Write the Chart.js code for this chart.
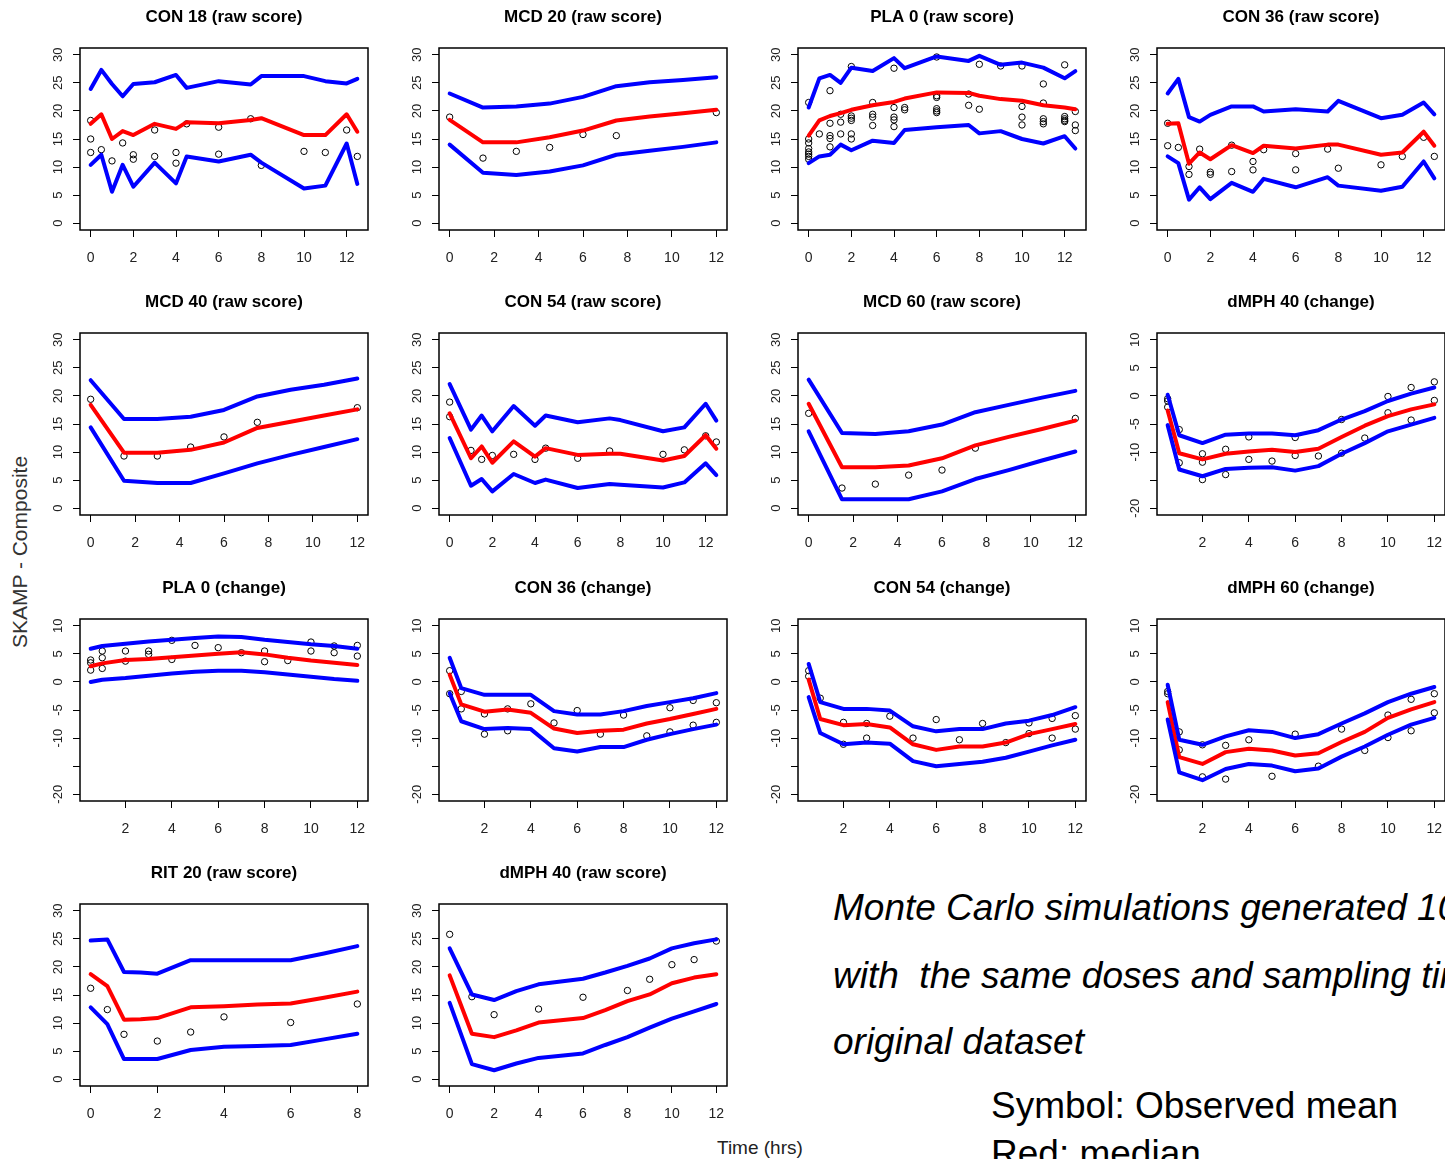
<!DOCTYPE html>
<html><head><meta charset="utf-8">
<script src="https://cdn.jsdelivr.net/npm/chart.js@4.4.1/dist/chart.umd.min.js"></script>
<style>
html,body{margin:0;padding:0;background:#fff;overflow:hidden;width:1445px;height:1159px;}
#stage{position:relative;width:1445px;height:1159px;overflow:hidden;font-family:'Liberation Sans',Arial,sans-serif;}
#stage canvas{position:absolute;}
.txt{position:absolute;white-space:nowrap;color:#000;line-height:1;}
</style></head>
<body><div id="stage">
<div class="txt" id="ylab" style="left:-130px;top:542px;width:300px;height:20px;line-height:20px;font-size:21px;text-align:center;color:#333;transform:rotate(-90deg);">SKAMP - Composite</div>
<div class="txt" style="left:717px;top:1138px;font-size:19px;color:#222;">Time (hrs)</div>
<div class="txt" style="left:833px;top:889px;font-size:37px;font-style:italic;">Monte Carlo simulations generated 10</div>
<div class="txt" style="left:833px;top:957px;font-size:37px;font-style:italic;">with&nbsp; the same doses and sampling times</div>
<div class="txt" style="left:833px;top:1023px;font-size:37px;font-style:italic;">original dataset</div>
<div class="txt" style="left:991px;top:1087px;font-size:37px;">Symbol: Observed mean</div>
<div class="txt" style="left:991px;top:1135px;font-size:37px;">Red: median</div>
</div>
<script>
// ---------- tick labels ----------
const rawYTicks = [0, 5, 10, 15, 20, 25, 30];
const chgYTicks = [-20, -15, -10, -5, 0, 5, 10];
const chgYLabels = [-20, -10, -5, 0, 5, 10];
const xTicks12 = [0, 2, 4, 6, 8, 10, 12];
const xTicksChg = [2, 4, 6, 8, 10, 12];
const xTicks8 = [0, 2, 4, 6, 8];

// ---------- time grids ----------
const conTime = [0, 0.5, 1, 1.5, 2, 3, 4, 4.5, 6, 7.5, 8, 10, 11, 12, 12.5];
const plaTime = [0, 0.5, 1, 1.5, 2, 3, 4, 4.5, 6, 7.5, 8, 9, 10, 11, 12, 12.5];
const con54Time = [0, 1, 1.5, 2, 3, 4, 4.5, 6, 7.5, 8, 10, 11, 12, 12.5];
const mcdTime = [0, 1.5, 3, 4.5, 6, 7.5, 9, 10.5, 12];
const mcdObsT = [0, 1.5, 3, 4.5, 6, 7.5, 12];
const chgTime = [0.5, 1, 2, 3, 4, 5, 6, 7, 8, 9, 10, 11, 12];
const ritTime = [0, 0.5, 1, 1.5, 2, 3, 4, 5, 6, 7, 8];
const dmphTime = [0, 1, 2, 3, 4, 5, 6, 7, 8, 9, 10, 11, 12];

// ---------- CON 18 (raw) ----------
const con18Hi  = [23.9, 27.3, 24.8, 22.6, 24.8, 25.1, 26.4, 24.1, 25.3, 24.7, 26.2, 26.2, 25.3, 24.9, 25.7];
const con18Med = [17.7, 19.4, 15.0, 16.4, 15.7, 17.7, 16.8, 18.0, 17.8, 18.4, 18.7, 15.7, 15.7, 19.4, 16.3];
const con18Lo  = [10.4, 12.2, 5.6, 10.4, 6.5, 10.8, 7.1, 11.9, 11.0, 12.2, 10.8, 6.2, 6.7, 14.2, 7.0];
const con18ObsT = [0, 0, 0, 0.5, 1, 1.5, 2, 2, 3, 3, 4, 4, 4.5, 6, 6, 7.5, 8, 10, 11, 12, 12.5];
const con18ObsY = [18.3, 15.0, 12.6, 13.1, 11.1, 14.3, 12.2, 11.4, 11.9, 16.6, 12.6, 10.7, 17.7, 17.1, 12.3, 18.6, 10.3, 12.8, 12.6, 16.6, 11.9];

// ---------- MCD 20 (raw) ----------
const mcd20Hi  = [23.1, 20.6, 20.8, 21.3, 22.5, 24.4, 25.1, 25.5, 26.0];
const mcd20Med = [18.4, 14.4, 14.4, 15.3, 16.5, 18.3, 19.0, 19.6, 20.2];
const mcd20Lo  = [14.0, 9.0, 8.6, 9.2, 10.3, 12.2, 12.9, 13.6, 14.4];
const mcd20ObsY = [18.9, 11.6, 12.8, 13.5, 15.8, 15.6, 19.7];

// ---------- PLA 0 (raw) ----------
const pla0Hi  = [20.6, 25.8, 26.4, 25.0, 27.7, 27.1, 29.4, 27.6, 29.7, 28.9, 29.8, 28.2, 28.6, 27.7, 25.8, 27.1];
const pla0Med = [15.6, 18.3, 19.1, 19.6, 20.2, 21.0, 21.6, 22.2, 23.3, 23.2, 22.7, 22.1, 21.8, 21.0, 20.6, 20.3];
const pla0Lo  = [10.7, 11.9, 12.2, 14.0, 13.0, 14.7, 14.3, 16.6, 17.1, 17.5, 16.0, 16.4, 15.0, 14.2, 15.5, 13.3];
const pla0ObsT = [0,0,0,0,0,0,0,0, 0.5, 1,1,1,1,1, 1.5,1.5,1.5, 2,2,2,2,2,2, 3,3,3,3, 4,4,4,4,4, 4.5,4.5, 6,6,6,6,6,6, 7.5,7.5, 8,8, 9, 10,10,10,10, 11,11,11,11,11, 12,12,12,12,12, 12.5,12.5,12.5];
const pla0ObsY = [21.5,15.0,14.3,13.3,12.7,12.3,11.9,11.4, 15.9, 23.6,17.8,15.6,15.1,13.6, 19.4,18.0,15.9, 27.9,19.1,18.7,18.3,15.9,15.0, 21.5,19.4,18.9,17.4, 27.6,20.6,18.9,18.4,17.2, 20.6,20.2, 29.6,22.7,22.4,20.4,20.0,19.7, 23.0,21.0, 28.3,20.3, 28.0, 28.0,20.8,18.9,17.5, 24.8,21.4,18.6,18.1,17.7, 28.2,19.0,18.6,18.3,18.1, 19.9,17.5,16.5];

// ---------- CON 36 (raw) ----------
const con36Hi  = [23.1, 25.7, 18.9, 18.1, 19.3, 20.8, 20.8, 19.9, 20.3, 19.9, 21.8, 18.7, 19.3, 21.5, 19.4];
const con36Med = [17.7, 17.8, 10.6, 12.6, 11.4, 13.9, 12.5, 13.8, 13.3, 14.0, 14.0, 12.2, 12.6, 16.3, 13.8];
const con36Lo  = [11.9, 10.7, 4.2, 6.4, 4.3, 7.2, 5.6, 7.9, 6.4, 8.2, 6.7, 5.8, 6.5, 11.0, 8.0];
const con36ObsT = [0, 0, 0.5, 1, 1, 1.5, 2, 2, 3, 3, 4, 4, 4.5, 6, 6, 7.5, 8, 10, 11, 12, 12.5];
const con36ObsY = [17.8, 13.8, 13.5, 10.1, 8.7, 13.2, 9.1, 8.7, 13.9, 9.2, 11.0, 9.5, 13.1, 12.4, 9.5, 13.2, 9.8, 10.4, 11.9, 15.3, 11.9];

// ---------- MCD 40 (raw) ----------
const mcd40Hi  = [22.8, 15.9, 15.9, 16.3, 17.5, 19.9, 21.1, 22.0, 23.1];
const mcd40Med = [18.4, 9.9, 9.9, 10.4, 11.7, 14.3, 15.4, 16.5, 17.6];
const mcd40Lo  = [14.4, 4.9, 4.5, 4.5, 6.2, 8.0, 9.5, 10.9, 12.3];
const mcd40ObsY = [19.4, 9.3, 9.3, 10.9, 12.7, 15.3, 17.9];

// ---------- CON 54 (raw) ----------
const con54Hi  = [22.1, 14.0, 16.5, 13.7, 18.2, 14.7, 16.5, 15.3, 16.0, 15.7, 13.7, 14.4, 18.6, 15.6];
const con54Med = [16.9, 8.9, 11.0, 8.1, 11.9, 9.2, 10.7, 9.5, 9.7, 9.7, 8.5, 9.3, 13.0, 10.6];
const con54Lo  = [12.5, 4.0, 5.2, 3.0, 6.1, 4.5, 5.1, 3.6, 4.3, 4.2, 3.7, 4.6, 8.0, 5.9];
const con54ObsT = [0, 0, 1, 1.5, 2, 3, 4, 4.5, 6, 7.5, 10, 11, 12, 12.5];
const con54ObsY = [18.9, 16.3, 10.3, 8.7, 9.4, 9.6, 8.7, 10.7, 8.9, 10.2, 9.6, 10.4, 12.9, 11.8];

// ---------- MCD 60 (raw) ----------
const mcd60Hi  = [22.9, 13.4, 13.2, 13.7, 14.9, 17.1, 18.4, 19.7, 20.9];
const mcd60Med = [18.6, 7.3, 7.3, 7.6, 8.9, 11.2, 12.7, 14.1, 15.6];
const mcd60Lo  = [13.7, 1.6, 1.6, 1.6, 3.0, 5.2, 6.8, 8.5, 10.1];
const mcd60ObsY = [16.9, 3.6, 4.3, 5.9, 6.8, 10.7, 16.0];

// ---------- dMPH 40 (change) ----------
const dmph40cHi  = [0.2, -7.0, -8.4, -6.9, -6.7, -6.7, -7.0, -6.1, -4.2, -2.7, -0.9, 0.4, 1.5];
const dmph40cMed = [-2.6, -10.2, -11.3, -10.3, -9.9, -9.6, -10.0, -9.4, -7.3, -5.3, -3.6, -2.4, -1.5];
const dmph40cLo  = [-5.2, -13.1, -14.3, -13.0, -12.8, -12.7, -13.3, -12.5, -10.3, -8.4, -6.3, -5.1, -3.9];
const dmph40cObsT = [0.5, 0.5, 0.5, 1, 1, 2, 2, 2, 3, 3, 4, 4, 5, 6, 6, 7, 8, 8, 9, 10, 10, 11, 11, 12, 12];
const dmph40cObsY = [-0.5, -0.9, -2.0, -6.0, -11.9, -10.3, -11.8, -14.9, -9.5, -14.0, -7.3, -11.3, -11.6, -7.4, -10.6, -10.7, -4.2, -10.2, -7.5, -0.1, -3.0, 1.5, -4.3, 2.5, -0.8];

// ---------- PLA 0 (change) ----------
const pla0cHi  = [5.9, 6.4, 6.8, 7.2, 7.5, 7.8, 8.1, 8.0, 7.5, 7.1, 6.7, 6.4, 5.9];
const pla0cMed = [2.8, 3.3, 3.9, 4.1, 4.4, 4.7, 5.0, 5.3, 4.9, 4.3, 3.8, 3.4, 3.0];
const pla0cLo  = [0.0, 0.4, 0.7, 1.1, 1.5, 1.8, 2.0, 2.0, 1.7, 1.3, 0.9, 0.5, 0.2];
const pla0cObsT = [0.5, 0.5, 0.5, 1, 1, 1, 2, 2, 3, 3, 4, 4, 5, 6, 7, 8, 8, 9, 10, 10, 11, 11, 12, 12];
const pla0cObsY = [3.9, 3.4, 2.1, 5.5, 4.3, 2.4, 5.5, 3.7, 5.5, 4.9, 7.4, 4.0, 6.5, 6.1, 5.2, 5.5, 3.6, 3.8, 7.1, 5.5, 6.4, 5.2, 6.5, 4.6];

// ---------- CON 36 (change) ----------
const con36cHi  = [4.3, -1.1, -2.3, -2.3, -2.3, -5.2, -5.8, -5.8, -5.2, -4.3, -3.6, -2.9, -2.0];
const con36cMed = [1.3, -4.0, -5.3, -4.9, -5.5, -8.3, -9.1, -8.7, -8.5, -7.4, -6.6, -5.7, -4.8];
const con36cLo  = [-2.0, -7.0, -8.4, -8.2, -8.4, -11.8, -12.4, -11.6, -11.6, -10.3, -9.3, -8.4, -7.6];
const con36cObsT = [0.5, 0.5, 1, 1, 2, 2, 3, 3, 4, 5, 6, 7, 8, 9, 10, 10, 11, 11, 12, 12];
const con36cObsY = [2.0, -2.1, -1.7, -4.8, -5.7, -9.3, -4.8, -8.7, -3.9, -7.3, -5.1, -9.3, -5.9, -9.6, -4.6, -8.9, -3.3, -7.7, -3.7, -7.2];

// ---------- CON 54 (change) ----------
const con54cHi  = [3.2, -3.6, -4.8, -4.8, -5.1, -7.9, -8.8, -8.4, -8.4, -7.4, -6.9, -5.9, -4.5];
const con54cMed = [0.4, -6.6, -7.7, -7.5, -8.1, -11.1, -12.1, -11.5, -11.5, -10.8, -9.3, -8.4, -7.5];
const con54cLo  = [-2.7, -9.1, -11.1, -10.8, -11.0, -14.1, -15.0, -14.6, -14.2, -13.5, -12.4, -11.3, -10.3];
const con54cObsT = [0.5, 0.5, 1, 2, 2, 3, 3, 4, 5, 6, 7, 8, 9, 10, 10, 11, 11, 12, 12];
const con54cObsY = [2.0, 1.0, -2.9, -7.2, -11.1, -7.4, -10.0, -6.1, -10.0, -6.7, -10.3, -7.4, -10.8, -7.3, -9.2, -6.5, -10.0, -6.0, -8.4];

// ---------- dMPH 60 (change) ----------
const dmph60cHi  = [-0.5, -10.3, -11.2, -9.7, -8.6, -8.9, -10.0, -9.3, -7.4, -5.6, -3.6, -2.1, -0.9];
const dmph60cMed = [-3.6, -13.4, -14.6, -12.5, -11.9, -12.2, -13.1, -12.7, -10.7, -8.9, -6.4, -4.9, -3.6];
const dmph60cLo  = [-6.7, -16.1, -17.5, -15.5, -14.6, -14.9, -15.9, -15.4, -13.3, -11.5, -9.4, -7.6, -6.4];
const dmph60cObsT = [0.5, 0.5, 1, 1, 2, 2, 3, 3, 4, 5, 6, 7, 8, 9, 10, 10, 11, 11, 12, 12];
const dmph60cObsY = [-1.7, -2.1, -8.9, -12.1, -11.2, -16.9, -11.3, -17.3, -10.3, -16.8, -9.3, -15.0, -8.4, -12.2, -5.9, -9.9, -3.1, -8.7, -2.1, -5.5];

// ---------- RIT 20 (raw) ----------
const ritHi  = [24.7, 24.9, 19.1, 19.0, 18.8, 21.2, 21.2, 21.2, 21.2, 22.4, 23.7];
const ritMed = [18.7, 16.6, 10.6, 10.7, 10.9, 12.8, 13.0, 13.3, 13.5, 14.5, 15.6];
const ritLo  = [12.8, 9.8, 3.6, 3.6, 3.6, 5.2, 5.8, 5.9, 6.1, 7.1, 8.1];
const ritObsT = [0, 0.5, 1, 2, 3, 4, 6, 8];
const ritObsY = [16.2, 12.4, 8.0, 6.8, 8.4, 11.1, 10.1, 13.4];

// ---------- dMPH 40 (raw) ----------
const dmph40Hi  = [23.3, 15.1, 14.1, 15.7, 16.9, 17.4, 17.9, 19.0, 20.2, 21.5, 23.3, 24.2, 24.9];
const dmph40Med = [18.5, 8.1, 7.5, 8.7, 10.1, 10.5, 10.9, 12.3, 13.9, 15.1, 17.1, 18.1, 18.7];
const dmph40Lo  = [13.6, 2.7, 1.6, 2.8, 3.8, 4.2, 4.6, 6.1, 7.5, 9.2, 10.8, 12.1, 13.4];
const dmph40ObsT = [0, 1, 2, 4, 6, 8, 9, 10, 11, 12];
const dmph40ObsY = [25.8, 14.7, 11.5, 12.5, 14.6, 15.8, 17.8, 20.4, 21.3, 24.6];

// ---------- panels ----------
const FONT = "'Liberation Sans', Arial, sans-serif";
Chart.defaults.font.family = FONT;

const RAW = {yMin: -1.2, yMax: 31.2, yTicks: rawYTicks, yLabels: rawYTicks};
const CHG = {yMin: -21.2, yMax: 11.2, yTicks: chgYTicks, yLabels: chgYLabels};
const X125 = {xMin: -0.5, xMax: 13.0, xTicks: xTicks12};
const X12 = {xMin: -0.48, xMax: 12.48, xTicks: xTicks12};
const XCH = {xMin: 0.04, xMax: 12.46, xTicks: xTicksChg};
const X8 = {xMin: -0.32, xMax: 8.32, xTicks: xTicks8};

const panels = [
  {title: 'CON 18 (raw score)', r: 0, c: 0, y: RAW, x: X125, t: conTime, hi: con18Hi, med: con18Med, lo: con18Lo, ot: con18ObsT, oy: con18ObsY},
  {title: 'MCD 20 (raw score)', r: 0, c: 1, y: RAW, x: X12, t: mcdTime, hi: mcd20Hi, med: mcd20Med, lo: mcd20Lo, ot: mcdObsT, oy: mcd20ObsY},
  {title: 'PLA 0 (raw score)', r: 0, c: 2, y: RAW, x: X125, t: plaTime, hi: pla0Hi, med: pla0Med, lo: pla0Lo, ot: pla0ObsT, oy: pla0ObsY},
  {title: 'CON 36 (raw score)', r: 0, c: 3, y: RAW, x: X125, t: conTime, hi: con36Hi, med: con36Med, lo: con36Lo, ot: con36ObsT, oy: con36ObsY},
  {title: 'MCD 40 (raw score)', r: 1, c: 0, y: RAW, x: X12, t: mcdTime, hi: mcd40Hi, med: mcd40Med, lo: mcd40Lo, ot: mcdObsT, oy: mcd40ObsY},
  {title: 'CON 54 (raw score)', r: 1, c: 1, y: RAW, x: X125, t: con54Time, hi: con54Hi, med: con54Med, lo: con54Lo, ot: con54ObsT, oy: con54ObsY},
  {title: 'MCD 60 (raw score)', r: 1, c: 2, y: RAW, x: X12, t: mcdTime, hi: mcd60Hi, med: mcd60Med, lo: mcd60Lo, ot: mcdObsT, oy: mcd60ObsY},
  {title: 'dMPH 40 (change)', r: 1, c: 3, y: CHG, x: XCH, t: chgTime, hi: dmph40cHi, med: dmph40cMed, lo: dmph40cLo, ot: dmph40cObsT, oy: dmph40cObsY},
  {title: 'PLA 0 (change)', r: 2, c: 0, y: CHG, x: XCH, t: chgTime, hi: pla0cHi, med: pla0cMed, lo: pla0cLo, ot: pla0cObsT, oy: pla0cObsY},
  {title: 'CON 36 (change)', r: 2, c: 1, y: CHG, x: XCH, t: chgTime, hi: con36cHi, med: con36cMed, lo: con36cLo, ot: con36cObsT, oy: con36cObsY},
  {title: 'CON 54 (change)', r: 2, c: 2, y: CHG, x: XCH, t: chgTime, hi: con54cHi, med: con54cMed, lo: con54cLo, ot: con54cObsT, oy: con54cObsY},
  {title: 'dMPH 60 (change)', r: 2, c: 3, y: CHG, x: XCH, t: chgTime, hi: dmph60cHi, med: dmph60cMed, lo: dmph60cLo, ot: dmph60cObsT, oy: dmph60cObsY},
  {title: 'RIT 20 (raw score)', r: 3, c: 0, y: RAW, x: X8, t: ritTime, hi: ritHi, med: ritMed, lo: ritLo, ot: ritObsT, oy: ritObsY},
  {title: 'dMPH 40 (raw score)', r: 3, c: 1, y: RAW, x: X12, t: dmphTime, hi: dmph40Hi, med: dmph40Med, lo: dmph40Lo, ot: dmph40ObsT, oy: dmph40ObsY}
];

// layout of plot boxes (reference pixels)
const BOX_L = [80, 439, 798, 1157];
const BOX_T = [48, 333, 619, 904];
const BOX_W = 288, BOX_H = 182;
const Y_AX_W = 75, X_AX_H = 40, TOP_H = 48, RIGHT_PAD = 20;

const zip = (xs, ys) => xs.map((v, i) => ({x: v, y: ys[i]}));

function rStylePlugin(title, yLabels) {
  return {
    id: 'rstyle',
    afterDraw(chart) {
      const {ctx, chartArea: a} = chart;
      const ys = chart.scales.y;
      ctx.save();
      ctx.strokeStyle = '#000';
      ctx.lineWidth = 1.5;
      ctx.strokeRect(a.left, a.top, a.right - a.left, a.bottom - a.top);
      // title
      ctx.fillStyle = '#000';
      ctx.font = 'bold 17px ' + FONT;
      ctx.textAlign = 'center';
      ctx.textBaseline = 'middle';
      ctx.fillText(title, (a.left + a.right) / 2, a.top - 31);
      // rotated y tick labels
      ctx.fillStyle = '#222';
      ctx.font = '13px ' + FONT;
      yLabels.forEach(v => {
        const py = ys.getPixelForValue(v);
        ctx.save();
        ctx.translate(a.left - 22, py);
        ctx.rotate(-Math.PI / 2);
        ctx.fillText(String(v), 0, 0);
        ctx.restore();
      });
      ctx.restore();
    }
  };
}

const stage = document.getElementById('stage');
panels.forEach(p => {
  const cv = document.createElement('canvas');
  const w = Y_AX_W + BOX_W + RIGHT_PAD, h = TOP_H + BOX_H + X_AX_H;
  cv.width = w; cv.height = h;
  cv.style.left = (BOX_L[p.c] - Y_AX_W) + 'px';
  cv.style.top = (BOX_T[p.r] - TOP_H) + 'px';
  cv.style.width = w + 'px'; cv.style.height = h + 'px';
  stage.appendChild(cv);
  const lineDs = (ys, color) => ({
    data: zip(p.t, ys), borderColor: color, backgroundColor: color, borderWidth: 4,
    pointRadius: 0, pointHoverRadius: 0, tension: 0, fill: false,
    borderCapStyle: 'round', borderJoinStyle: 'round', order: 1
  });
  new Chart(cv, {
    type: 'line',
    data: {datasets: [
      {data: zip(p.ot, p.oy), showLine: false, pointStyle: 'circle', pointRadius: 3.2, pointHoverRadius: 3.2,
       pointBorderWidth: 1, pointBorderColor: '#000', pointBackgroundColor: 'rgba(0,0,0,0)', order: 10},
      lineDs(p.lo, '#0000ff'),
      lineDs(p.hi, '#0000ff'),
      lineDs(p.med, '#ff0000')
    ]},
    options: {
      responsive: false, animation: false, events: [], devicePixelRatio: 1,
      layout: {padding: {left: 0, right: RIGHT_PAD, top: TOP_H, bottom: 0}},
      plugins: {legend: {display: false}, tooltip: {enabled: false}, title: {display: false}},
      scales: {
        x: {
          type: 'linear', min: p.x.xMin, max: p.x.xMax,
          afterBuildTicks: ax => { ax.ticks = p.x.xTicks.map(v => ({value: v})); },
          afterFit: s => { s.height = X_AX_H; },
          grid: {drawOnChartArea: false, drawTicks: true, tickLength: 7, color: '#000', lineWidth: 1},
          border: {display: false},
          ticks: {color: '#222', font: {size: 14}, padding: 13, maxRotation: 0, autoSkip: false, callback: v => String(v)}
        },
        y: {
          type: 'linear', min: p.y.yMin, max: p.y.yMax,
          afterBuildTicks: ax => { ax.ticks = p.y.yTicks.map(v => ({value: v})); },
          afterFit: s => { s.width = Y_AX_W; },
          grid: {drawOnChartArea: false, drawTicks: true, tickLength: 7, color: '#000', lineWidth: 1},
          border: {display: false},
          ticks: {display: false}
        }
      }
    },
    plugins: [rStylePlugin(p.title, p.y.yLabels)]
  });
});
</script>
</body></html>
